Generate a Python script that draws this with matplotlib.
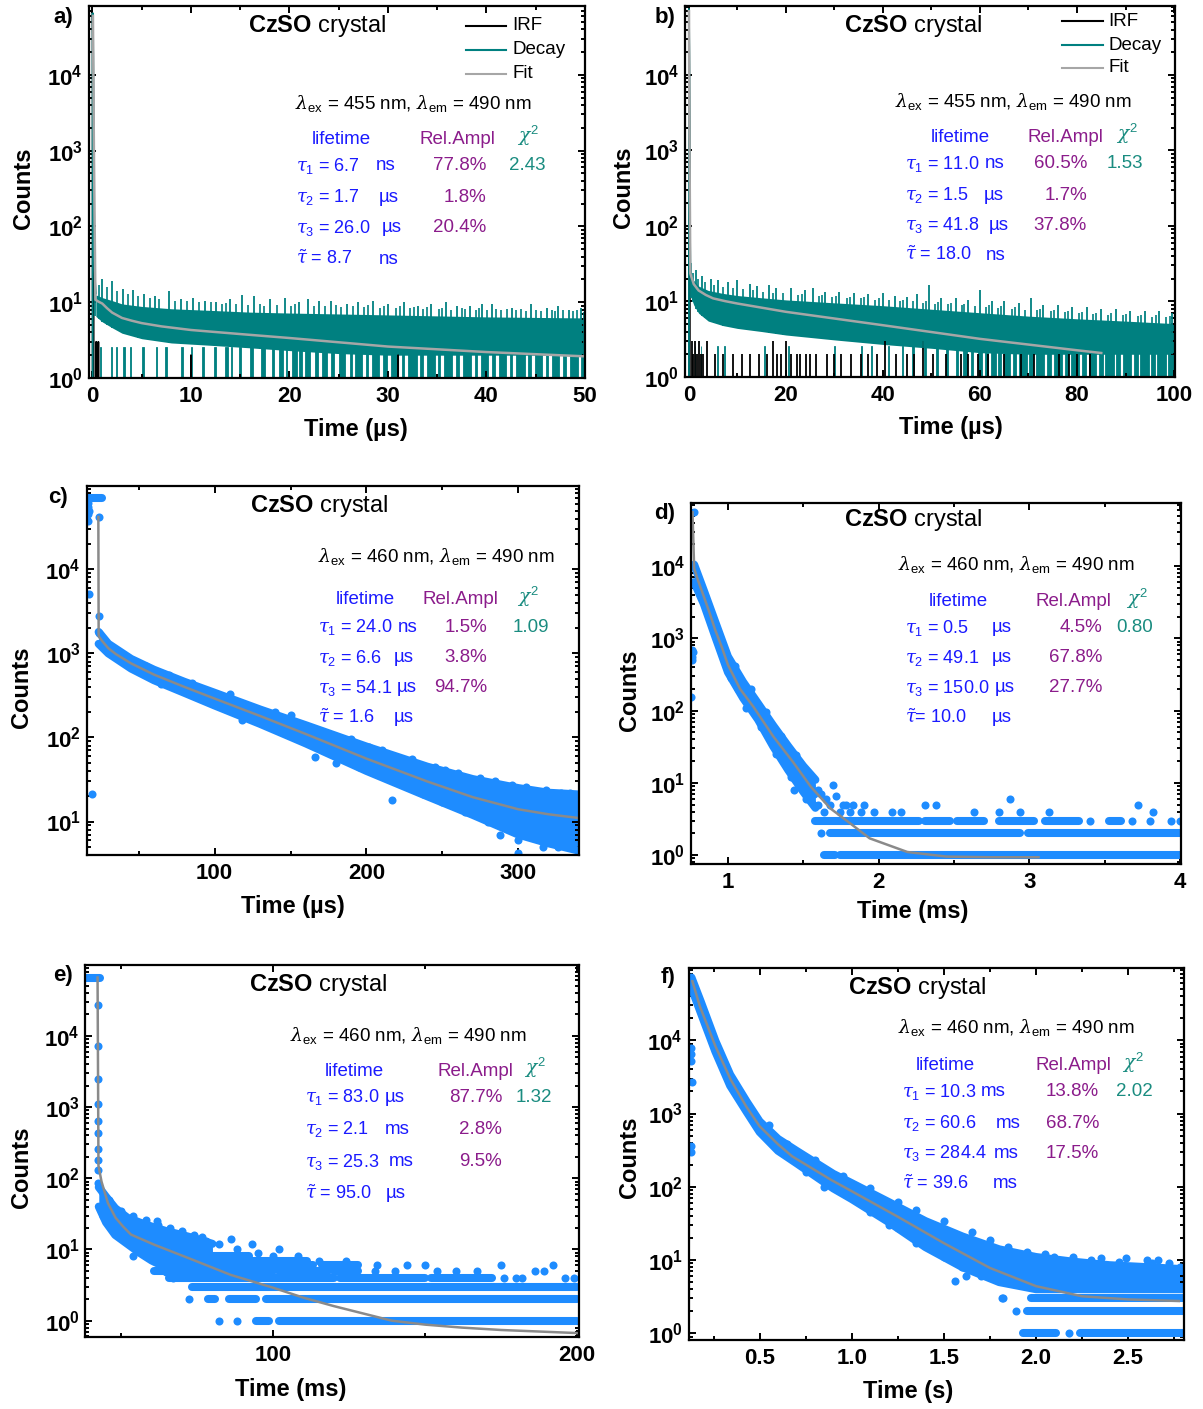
import numpy as np
import matplotlib
matplotlib.use('Agg')
import matplotlib.pyplot as plt
from matplotlib.ticker import FixedLocator, LogLocator, FuncFormatter, NullFormatter
from matplotlib.lines import Line2D

plt.rcParams['font.family'] = ['Liberation Sans', 'DejaVu Sans']
plt.rcParams['mathtext.fontset'] = 'custom'
plt.rcParams['mathtext.rm'] = 'Liberation Sans'
plt.rcParams['mathtext.it'] = 'DejaVu Serif:italic'
plt.rcParams['mathtext.bf'] = 'Liberation Sans:bold'
plt.rcParams['mathtext.sf'] = 'Liberation Sans'

# ---------------------------------------------------------------- data
# panel a (time in us)
a_irf_t = [-0.4, -0.03, 0.02, 0.07, 0.12, 0.18, 0.3, 0.38, 0.42, 0.5, 0.54, 0.6, 0.66, 9.98, 10.0, 10.05, 31.0, 31.03, 31.07, 50.0]
a_irf_c = [0, 0, 6.5e4, 2.0e4, 40, 0, 0, 3, 0, 2, 0, 3, 0, 0, 2, 0, 0, 2, 0, 0]
a_head_t = [-0.4, -0.03, 0.02, 0.07, 0.12, 0.18, 0.25, 0.35]
a_head_c = [0, 0, 6.5e4, 3.0e4, 800, 60, 20, 13]
a_env_t = [0.35, 1, 2, 3, 5, 8, 12, 16, 20, 25, 30, 35, 40, 45, 50]
a_env_hi = [12.5, 11.5, 10.5, 9.5, 8.8, 8.2, 7.8, 7.4, 7.2, 7.0, 6.8, 6.6, 6.4, 6.3, 6.2]
a_env_lo = [6.5, 5.5, 4.6, 3.9, 3.3, 2.9, 2.7, 2.5, 2.3, 2.1, 2.0, 2.0, 2.0, 2.0, 2.0]
a_up_t = [0.3, 1.0, 2.0, 3.1, 4.1, 5.2, 6.3, 7.8, 9.0, 10.2, 11.4, 12.5, 14.0, 15.2, 16.4, 18.0, 19.5, 21.0,
          21.9, 23.0, 24.2, 25.8, 27.0, 28.5, 30.0, 31.6, 33.0, 34.4, 35.9, 37.0, 38.3, 39.5, 40.6, 42.6,
          44.5, 46.1, 47.3, 48.4, 49.6]
a_up_c = [22, 20, 19, 15, 14.5, 13, 12, 14, 11, 11.5, 10.5, 10, 11, 12.5, 12, 11, 11.5, 10, 11, 10.5,
          10.3, 9.5, 10, 10.5, 9.5, 10, 9, 9.5, 10, 9, 9, 9.5, 9.5, 8.5, 9.5, 8.5, 9, 8, 8.5]
a_up2_t = [0.7, 1.5, 2.5, 3.6, 4.6, 5.8, 6.8, 8.4, 9.6, 10.8, 12.0, 13.2, 13.6, 14.6, 15.8, 17.0, 17.4,
           18.7, 20.2, 20.6, 22.5, 23.6, 24.7, 25.2, 26.4, 27.6, 28.0, 29.2, 29.6, 30.8, 31.2, 32.2, 32.6,
           33.6, 34.0, 35.2, 35.5, 36.4, 37.5, 37.8, 38.9, 39.2, 40.1, 41.0, 41.5, 42.1, 43.0, 43.5, 44.0,
           45.0, 45.5, 46.6, 47.0, 47.8, 48.8, 49.2, 49.9]
a_up2_c = [17, 16, 14, 13, 12, 11.5, 11, 10.5, 10.5, 10, 10, 9.5, 9.8, 9.5, 9.2, 9.5, 9.0, 9.3, 9.0, 9.4,
           9.0, 8.8, 9.2, 8.7, 9.0, 8.6, 9.1, 8.5, 8.9, 8.4, 8.8, 8.3, 8.7, 8.2, 8.6, 8.1, 8.5, 8.0, 8.4,
           8.2, 8.0, 8.3, 7.9, 8.2, 7.8, 8.1, 7.8, 8.1, 7.7, 8.0, 7.7, 7.9, 7.6, 7.9, 7.6, 7.8, 7.5]
a_floor_s = [0.4, 0.8, 1.9, 2.4, 3.1, 3.8, 5.0, 6.5, 7.4, 9.0, 10.0, 11.1, 12.3, 13.5, 14.1, 14.9, 16.0, 17.1,
             18.2, 18.9, 19.6, 20.3, 21.0, 21.6, 22.6, 23.3, 24.2, 25.0, 26.1, 26.7, 27.8, 28.4, 29.5, 30.3,
             31.4, 32.0, 33.3, 34.0, 35.1, 35.7, 36.9, 37.6, 38.8, 39.4, 40.6, 41.3, 42.4, 43.0, 44.2, 44.9,
             46.0, 46.6, 47.8, 48.5, 49.6]
a_floor_e = [0.5, 0.9, 2.0, 2.5, 3.3, 3.9, 5.2, 6.6, 7.6, 9.2, 10.1, 11.3, 12.5, 13.8, 14.2, 15.1, 16.3, 17.5,
             18.4, 19.3, 19.8, 20.8, 21.3, 22.1, 22.9, 23.8, 24.5, 25.6, 26.3, 27.4, 28.0, 29.1, 29.9, 31.0,
             31.6, 32.9, 33.6, 34.8, 35.3, 36.5, 37.2, 38.4, 39.0, 40.2, 40.9, 42.0, 42.6, 43.9, 44.5, 45.6,
             46.2, 47.4, 48.1, 49.3, 50.0]
a_fit_t = [0.05, 0.15, 0.3, 0.6, 1, 1.5, 2, 3, 4, 5, 7, 10, 15, 20, 30, 40, 50]
a_fit_c = [6.0e4, 1.0e3, 10.8, 10.2, 9.6, 8.3, 7.3, 6.2, 5.7, 5.3, 4.8, 4.3, 3.8, 3.37, 2.6, 2.2, 1.93]

# panel b (time in us)
b_irf_head_t = [-0.8, -0.05, 0.02, 0.1, 0.2, 0.35]
b_irf_head_c = [0, 0, 7.5e4, 5.0e3, 30, 0]
b_irf_t = [0.6, 0.9, 1.3, 1.7, 2.1, 2.5, 3.0, 3.8, 5.4, 7.0, 9.0, 11.0, 12.5, 14.5, 16.0, 17.3, 18.2, 19.0,
           20.1, 21.0, 22.3, 23.0, 24.1, 25.0, 26.2, 28.5, 30.0, 31.4, 33.5, 35.5, 37.0, 38.8, 40.5, 42.7,
           45.0, 46.5, 48.2, 50.3, 53.0, 56.0, 57.6, 59.6, 61.6, 65.0, 68.4, 71.2, 76.3, 78.3, 80.0, 82.7]
b_irf_c = [3, 2, 3, 2, 3, 2, 2, 3, 2, 2, 2, 2, 2, 2, 2, 3, 2, 2, 3, 2, 2, 2, 2, 2, 2, 2, 2, 2, 2, 2, 2,
           2, 3, 2, 2, 2, 3, 2, 2, 2, 2, 2, 2, 2, 2, 2, 2, 2, 2, 2]
b_head_t = [-0.8, -0.05, 0.02, 0.08, 0.15, 0.25, 0.3]
b_head_c = [0, 0, 7.5e4, 2.0e4, 500, 60, 28]
b_env_t = [0.3, 1, 2, 4, 7, 10, 15, 20, 30, 40, 50, 60, 70, 80, 90, 100]
b_env_hi = [24, 19, 16, 14, 12.8, 12, 11.2, 10.5, 9.6, 8.8, 7.9, 7.1, 6.4, 5.9, 5.5, 5.1]
b_env_lo = [12, 9, 7, 5.5, 4.8, 4.4, 4.0, 3.6, 3.1, 2.7, 2.4, 2.1, 2.0, 2.0, 2.0, 2.0]
b_up_t = [0.5, 1.5, 2.8, 4.5, 6.0, 8.0, 10.0, 12.5, 14.0, 16.5, 18.0, 21.0, 24.0, 25.5, 28.0, 31.0, 34.0,
          37.0, 40.0, 42.5, 45.0, 47.0, 49.5, 52.0, 55.0, 57.5, 60.0, 62.5, 65.0, 68.0, 70.5, 73.0, 76.0,
          79.0, 82.0, 85.0, 88.0, 91.0, 94.0, 97.0, 99.5]
b_up_c = [32, 26, 22, 20, 19, 18, 19, 17, 16, 16.5, 15, 15, 14, 15, 13.5, 13.5, 13, 12.5, 13, 12, 11.5,
          12.5, 16.5, 11, 11, 10.5, 14, 10, 10, 9.5, 11, 9, 9, 8.5, 8.5, 8, 8, 7.5, 7.5, 7.5, 7]
b_up2_t = [0.8, 1.9, 3.3, 5.2, 7.0, 9.0, 11.2, 13.3, 15.2, 17.3, 19.5, 22.5, 23.3, 26.8, 27.4, 29.5, 30.3,
           32.5, 33.2, 35.4, 36.1, 38.3, 39.1, 41.3, 43.6, 44.2, 46.2, 48.3, 48.9, 50.8, 51.4, 53.5, 54.1,
           56.2, 56.8, 58.9, 61.2, 61.8, 63.8, 64.4, 66.5, 67.2, 69.3, 71.8, 72.4, 74.6, 75.3, 77.5, 78.1,
           80.4, 81.1, 83.4, 84.0, 86.4, 87.1, 89.5, 90.2, 92.5, 93.2, 95.5, 96.2, 98.4, 99.1]
b_up2_c = [24, 20, 18, 16.5, 15.5, 15, 14.5, 14, 13.5, 13, 12.8, 12.2, 12.6, 11.8, 12.2, 11.5, 11.9, 11.2,
           11.6, 11.0, 11.3, 10.6, 11.0, 10.4, 10.2, 10.6, 10.0, 9.6, 10.0, 9.4, 9.8, 9.2, 9.5, 9.0, 9.3,
           8.7, 8.5, 8.9, 8.3, 8.6, 8.0, 8.4, 7.8, 7.6, 7.9, 7.4, 7.7, 7.2, 7.5, 7.0, 7.3, 6.8, 7.1, 6.7,
           7.0, 6.6, 6.9, 6.4, 6.7, 6.3, 6.6, 6.2, 6.5]
b_floor_s = [1.2, 2.5, 5.8, 7.2, 15.5, 20.5, 30.0, 35.5, 37.5, 41.0, 44.0, 46.0, 48.5, 51.0, 53.0, 55.0,
             56.5, 58.2, 59.5, 61.0, 62.2, 63.8, 65.0, 66.8, 68.0, 70.2, 71.6, 73.8, 75.2, 77.5, 78.8, 81.0,
             82.4, 84.5, 85.8, 88.1, 89.4, 91.7, 93.0, 95.3, 96.5, 98.8]
b_floor_e = [1.3, 2.6, 5.9, 7.4, 15.7, 20.7, 30.2, 35.7, 37.8, 41.3, 44.2, 46.4, 48.8, 51.3, 53.5, 55.4,
             57.3, 58.6, 60.5, 61.6, 63.3, 64.4, 66.2, 67.5, 69.6, 71.0, 73.2, 74.6, 77.0, 78.2, 80.5, 81.8,
             84.0, 85.3, 87.6, 88.9, 91.2, 92.5, 94.8, 96.0, 98.3, 100.2]
b_fit_t = [0.02, 0.1, 0.3, 1, 2, 3.5, 5, 7.5, 10, 20, 40, 60, 80, 85]
b_fit_c = [7.0e4, 2.0e3, 23.5, 17, 14, 12.2, 11, 10.1, 9.4, 7.3, 4.85, 3.2, 2.26, 2.08]

# panel c (time in us)
c_fit_t = [23.4, 23.6, 26, 30, 35, 45, 60, 80, 100, 130, 160, 200, 240, 270, 300, 320, 340]
c_fit_c = [4.2e4, 1.6e3, 1.4e3, 1.15e3, 980, 760, 560, 400, 290, 180, 110, 56, 30, 19.5, 14, 12.2, 11]
c_band_t = [23.6, 30, 45, 60, 80, 100, 130, 160, 200, 240, 270, 300, 320, 340]
c_band_hi = [1800, 1300, 860, 640, 460, 340, 215, 140, 78, 45, 32, 25, 22, 21]
c_band_lo = [1300, 1000, 660, 480, 340, 240, 145, 85, 40, 20, 12, 7, 5.5, 4.5]
c_row_c = [7.0e4]
c_row_s = [16.6]
c_row_e = [26.0]
c_pts_t = [16.3, 16.5, 16.8, 17.5, 16.4, 24.1, 17.4, 24.0, 24.0, 19.4, 118, 166, 217, 237, 288, 300, 300,
           316, 326, 202, 252, 296, 334, 180, 310,
           40, 55, 70, 85, 110, 140, 150, 170, 190, 210, 230, 245, 260, 275, 285, 305, 318, 328,
           65, 90, 120, 145, 175, 195, 225, 250, 265, 280, 295, 315, 335]
c_pts_c = [4.5e4, 5.5e4, 3.8e4, 5.0e4, 6.2e4, 4.2e4, 5.1e3, 2.8e3, 1.75e3, 21, 162, 59, 18, 21, 6.9, 6.1,
           4.2, 5, 5, 78, 41, 27, 22, 50, 9,
           950, 700, 560, 440, 330, 200, 185, 120, 95, 70, 55, 45, 38, 33, 30, 26, 24, 22,
           430, 300, 190, 120, 70, 45, 27, 17, 13, 10, 8, 6.5, 5.5]

# panel d (time in ms)
d_fit_t = [0.765, 0.776, 0.80, 0.84, 0.88, 0.916, 0.96, 1.0, 1.08, 1.17, 1.3, 1.43, 1.55, 1.68, 1.81,
           1.94, 2.19, 2.45, 2.75, 3.06]
d_fit_c = [5.6e4, 9.3e3, 6.5e3, 3.8e3, 2.2e3, 1.3e3, 750, 430, 200, 112, 44, 19.6, 8.8, 4.4, 2.75,
           1.7, 1.1, 0.95, 0.93, 0.93]
d_band_t = [0.776, 0.84, 0.92, 1.0, 1.1, 1.2, 1.3, 1.4, 1.5, 1.58]
d_band_hi = [1.05e4, 4.6e3, 1.6e3, 560, 250, 125, 62, 32, 17, 11]
d_band_lo = [6.0e3, 3.0e3, 1.0e3, 340, 150, 75, 32, 15, 7.5, 4.5]
d_row_c = [3, 3, 3, 3, 3, 3, 2, 2, 1, 1]
d_row_s = [1.58, 2.31, 2.52, 2.80, 3.10, 3.53, 1.68, 2.99, 1.64, 1.74]
d_row_e = [2.27, 2.47, 2.70, 3.03, 3.33, 3.61, 2.94, 4.00, 1.71, 4.00]
d_pts_t = [0.776, 0.763, 0.765, 0.762, 0.760, 0.758, 1.07, 1.12, 1.38, 1.42, 1.45, 1.47, 1.50, 1.52,
           1.55, 1.57, 1.60, 1.62, 1.65, 1.70, 1.72, 1.76, 1.81, 1.83, 1.885, 1.90, 1.97, 2.09, 2.15,
           2.31, 2.38, 2.63, 2.80, 2.87, 2.94, 3.13, 3.72, 3.82, 1.44, 1.48, 1.62, 3.40, 3.68, 3.80,
           3.94, 4.0,
           0.95, 1.05, 1.15, 1.25, 1.35, 1.02, 1.12, 1.22, 1.32, 1.42, 1.52, 1.57,
           1.60, 1.64, 1.68, 1.74, 1.78]
d_pts_c = [5.6e4, 700, 640, 560, 500, 155, 200, 150, 28, 22, 24, 16, 14, 10, 9, 7, 8, 7, 6, 9.3, 6.5,
           5, 4, 5, 4, 5, 4, 4, 4, 5, 5, 4, 4, 6, 4, 4, 5, 4, 8, 9, 2, 3, 3, 3, 3, 3,
           1000, 420, 200, 95, 45, 280, 110, 60, 25, 12, 6, 5,
           5, 4, 5, 4, 5]

# panel e (time in ms)
e_fit_t = [42.2, 42.5, 43.5, 45.6, 48.1, 50.6, 53.2, 60.8, 73.4, 86, 100, 110, 120, 139, 150, 162, 175, 200]
e_fit_c = [6.6e4, 150, 90, 45, 28, 21, 16.2, 11.7, 7.2, 4.4, 2.9, 2.1, 1.6, 1.0, 0.88, 0.8, 0.74, 0.67]
e_band_t = [42.6, 45, 48, 52, 56, 60, 65, 70, 75, 80]
e_band_hi = [75, 55, 38, 28, 24, 21, 18, 16, 14, 12]
e_band_lo = [40, 24, 16, 12, 9, 7, 5.5, 5, 5, 5]
e_row_c = [6.6e4, 8, 7, 6, 6, 6, 5, 5, 5, 4, 4, 4, 3, 2, 2, 2, 1, 1]
e_row_s = [38.4, 64.6, 70.0, 73.0, 98.0, 116.0, 60.8, 102.0, 120.0, 65.8, 122.0, 152.0, 73.4, 78.5,
           85.4, 97.5, 94.3, 101.9]
e_row_e = [42.9, 92.0, 111.0, 96.0, 113.0, 128.0, 100.0, 118.0, 127.8, 120.0, 150.0, 172.0, 200.0,
           81.0, 94.3, 200.0, 98.7, 200.0]
e_pts_t = [42.4, 42.4, 42.4, 42.4, 42.4, 42.4, 42.4, 42.4, 42.4, 42.4, 53.8, 61.8, 64.6, 67.1, 76.6,
           86, 93, 102, 144, 175, 192, 182, 186, 189, 160, 167, 154, 133.5, 140, 57, 59, 72.2, 82, 88,
           176, 180, 196, 199,
           46, 50, 54, 58, 62, 66, 70, 74, 78, 82, 88, 95, 100, 108, 115, 124, 134, 150, 44, 47, 50, 55]
e_pts_c = [2.7e4, 7.1e3, 2.45e3, 1.1e3, 630, 430, 257, 178, 132, 86, 8, 25, 4.9, 4, 15, 14, 11.8, 10,
           6, 6, 6, 4, 5, 5, 5, 5, 5, 5, 5, 10, 9, 2, 1, 1, 4, 4, 4, 4,
           50, 35, 30, 26, 22, 20, 18, 16, 13, 12, 10, 9, 8, 8, 7, 7, 6, 6, 30, 20, 15, 11]

# panel f (time in s)
f_fit_t = [0.135, 0.176, 0.26, 0.343, 0.427, 0.5, 0.6, 0.677, 0.886, 1.0, 1.25, 1.5, 1.75, 2.0, 2.25, 2.5, 2.775]
f_fit_c = [6.4e4, 2.9e4, 8.3e3, 2.9e3, 1.25e3, 670, 380, 260, 125, 87, 39, 17, 7.8, 4.4, 3.2, 2.9, 2.76]
f_band_t = [0.13, 0.18, 0.26, 0.34, 0.43, 0.5, 0.6, 0.7, 0.9, 1.0, 1.2, 1.4, 1.6, 1.8, 2.0, 2.2, 2.4, 2.6, 2.8]
f_band_hi = [7.2e4, 3.4e4, 9.8e3, 3.4e3, 1.45e3, 780, 450, 310, 150, 112, 62, 34, 21, 14, 11, 9.5, 8.5, 8, 7.5]
f_band_lo = [5.2e4, 2.4e4, 7.0e3, 2.4e3, 1.05e3, 560, 310, 210, 95, 68, 33, 15, 8, 5, 4, 4, 4, 4, 4]
f_row_c = [3, 2, 1, 1]
f_row_s = [1.97, 1.95, 1.93, 2.24]
f_row_e = [2.80, 2.80, 2.11, 2.80]
f_pts_t = [0.13, 0.13, 0.128, 0.133, 0.13, 0.13, 1.558, 1.82, 2.49, 2.78, 2.66, 2.63, 1.9, 2.1, 2.3,
           1.05, 1.3, 1.45, 1.815, 1.89, 2.18, 1.20, 1.62,
           0.55, 0.65, 0.8, 0.95, 1.1, 1.25, 1.35, 1.5, 1.65, 1.75, 1.85, 1.95, 2.05, 2.2, 2.35, 2.45,
           2.6, 2.72, 0.75, 0.85, 1.1, 1.25, 1.35, 1.5, 1.6, 1.7]
f_pts_c = [7.9e3, 6.5e3, 5.2e3, 2.7e3, 360, 300, 5.1, 3, 10.6, 8.1, 10, 9, 12, 11, 10, 60, 40, 28, 3, 2,
           1, 30, 6,
           700, 380, 230, 140, 95, 62, 48, 34, 24, 19, 15, 13, 12, 11, 10.5, 9.5, 10, 9,
           160, 100, 45, 27, 17, 11, 8, 6]

# annotation values
a_tau = ['6.7', '1.7', '26.0', '8.7'];   a_unit = ['ns', 'µs', 'µs', 'ns'];  a_amp = ['77.8%', '1.8%', '20.4%'];  a_chi = '2.43'
b_tau = ['11.0', '1.5', '41.8', '18.0']; b_unit = ['ns', 'µs', 'µs', 'ns'];  b_amp = ['60.5%', '1.7%', '37.8%'];  b_chi = '1.53'
c_tau = ['24.0', '6.6', '54.1', '1.6'];  c_unit = ['ns', 'µs', 'µs', 'µs'];  c_amp = ['1.5%', '3.8%', '94.7%'];   c_chi = '1.09'
d_tau = ['0.5', '49.1', '150.0', '10.0']; d_unit = ['µs', 'µs', 'µs', 'µs']; d_amp = ['4.5%', '67.8%', '27.7%'];  d_chi = '0.80'
e_tau = ['83.0', '2.1', '25.3', '95.0']; e_unit = ['µs', 'ms', 'ms', 'µs'];  e_amp = ['87.7%', '2.8%', '9.5%'];   e_chi = '1.32'
f_tau = ['10.3', '60.6', '284.4', '39.6']; f_unit = ['ms', 'ms', 'ms', 'ms']; f_amp = ['13.8%', '68.7%', '17.5%']; f_chi = '2.02'
a_wl = ['455', '490']; b_wl = ['455', '490']; c_wl = ['460', '490']
d_wl = ['460', '490']; e_wl = ['460', '490']; f_wl = ['460', '490']

# ---------------------------------------------------------------- style
TEAL = '#008080'
BLUE = '#1e8cff'
FIT_AB = '#a6a6a6'
FIT_CF = '#8a8a8a'
TBLUE = '#1a1aff'
TPURP = '#8b1c8b'
TTEAL = '#1a8c80'
MS = 5.8

W, H = 1203, 1409
fig = plt.figure(figsize=(W / 100, H / 100), dpi=100)
RENDERER = fig.canvas.get_renderer()


def make_ax(l, r, t, b):
    return fig.add_axes([l / W, 1 - b / H, (r - l) / W, (b - t) / H])


def T(x, y, s, size=13.5, color='black', ha='left', va='center', weight='normal'):
    return fig.text(x / W, 1 - y / H, s, fontsize=size, color=color, ha=ha, va=va, fontweight=weight)


def style(ax, box, xlim, ylim, xmaj, xlabs, xminor, xlabel, xl_c, xl_c_y, yl_c):
    l, r, t, b = box
    ax.set_yscale('log', nonpositive='clip')
    ax.set_xlim(*xlim)
    ax.set_ylim(*ylim)
    ax.set_xticks(xmaj)
    ax.set_xticklabels(xlabs, fontweight='bold', fontsize=16)
    ax.xaxis.set_minor_locator(FixedLocator(xminor))
    ax.yaxis.set_major_locator(FixedLocator([1, 10, 100, 1e3, 1e4]))
    ax.yaxis.set_major_formatter(FuncFormatter(lambda v, p: r'$\mathbf{10^{%d}}$' % round(np.log10(v))))
    ax.yaxis.set_minor_locator(LogLocator(base=10, subs=np.arange(2, 10)))
    ax.yaxis.set_minor_formatter(NullFormatter())
    ax.tick_params(which='both', direction='in', top=True, right=True, width=1.4)
    ax.tick_params(which='major', length=5, pad=6)
    ax.tick_params(which='minor', length=3)
    ax.tick_params(axis='y', labelsize=16, pad=4)
    for s in ax.spines.values():
        s.set_linewidth(1.6)
    ax.set_xlabel(xlabel, fontsize=17, fontweight='bold')
    ax.set_ylabel('Counts', fontsize=17, fontweight='bold')
    # label positions given in figure pixels (centre of the label text)
    ax.xaxis.set_label_coords((xl_c - l) / (r - l), (b - (xl_c_y - 12)) / (b - t))
    ax.yaxis.set_label_coords((yl_c[0] + 13 - l) / (r - l), (b - yl_c[1]) / (b - t))


def annotate(lab, lx, ly, title_x, title_y, wl, wlx, wly, hdr_y, hx, tau, unit, amp, chi,
             tx, ux, ax_r, chix, rows, tilde_eq=' = '):
    T(lx, ly, lab, size=16, weight='bold', ha='center')
    T(title_x, title_y, r'$\mathbf{CzSO}$ crystal', size=17, ha='center')
    T(wlx, wly, r'$\lambda_{\mathrm{ex}}$ = %s nm, $\lambda_{\mathrm{em}}$ = %s nm' % (wl[0], wl[1]))
    T(hx[0], hdr_y, 'lifetime', color=TBLUE, ha='center')
    T(hx[1], hdr_y, 'Rel.Ampl', color=TPURP, ha='center')
    T(hx[2], hdr_y - 3, r'$\chi^2$', color=TTEAL, ha='center')
    syms = [r'$\tau_1$ = ', r'$\tau_2$ = ', r'$\tau_3$ = ', r'$\tilde{\tau}$' + tilde_eq]
    for i in range(4):
        t = T(tx, rows[i], syms[i] + tau[i], color=TBLUE, size=13)
        x_end = t.get_window_extent(RENDERER).x1
        T(max(ux[i], x_end + 5), rows[i], unit[i], color=TBLUE)
    for i in range(3):
        T(ax_r, rows[i], amp[i], color=TPURP, ha='right')
    T(chix, rows[0], chi, color=TTEAL, ha='center')


def legend_ab(x0, x1, xt, ys):
    for y, col, lab in zip(ys, ['black', TEAL, FIT_AB], ['IRF', 'Decay', 'Fit']):
        fig.add_artist(Line2D([x0 / W, x1 / W], [1 - y / H, 1 - y / H], color=col, lw=1.5,
                              transform=fig.transFigure))
        T(xt, y, lab)


def teal_decay(ax, head_t, head_c, env_t, lo, hi, up_t, up_c, up2_t, up2_c, fl_s, fl_e, floor_top):
    ax.plot(head_t, head_c, color=TEAL, lw=1.3)
    ax.fill_between(env_t, lo, hi, color=TEAL, lw=0)
    ax.vlines(up_t, np.interp(up_t, env_t, lo), up_c, color=TEAL, lw=1.3)
    ax.vlines(up2_t, np.interp(up2_t, env_t, lo), up2_c, color=TEAL, lw=1.2)
    fs = np.array(fl_s)
    fe = np.array(fl_e)
    ax.bar(fs, [floor_top - 0.3] * len(fs), width=fe - fs, bottom=0.3, align='edge',
           color=TEAL, edgecolor=TEAL, lw=0.6)


def blue_decay(ax, band_t, lo, hi, row_c, row_s, row_e, pts_t, pts_c):
    ax.fill_between(band_t, lo, hi, color=BLUE, lw=0)
    ax.plot(band_t, hi, color=BLUE, lw=MS, solid_capstyle='round', solid_joinstyle='round')
    ax.plot(band_t, lo, color=BLUE, lw=MS, solid_capstyle='round', solid_joinstyle='round')
    ax.hlines(row_c, row_s, row_e, color=BLUE, lw=MS, capstyle='round')
    ax.plot(pts_t, pts_c, 'o', ms=MS, color=BLUE, mec='none')


# ---------------------------------------------------------------- panel a
box = (88.5, 585, 6, 378)
ax = make_ax(*box)
ax.plot(a_irf_t, a_irf_c, color='black', lw=1.3)
teal_decay(ax, a_head_t, a_head_c, a_env_t, a_env_lo, a_env_hi, a_up_t, a_up_c, a_up2_t, a_up2_c,
           a_floor_s, a_floor_e, 2.6)
ax.plot(a_fit_t, a_fit_c, color=FIT_AB, lw=1.8)
style(ax, box, (-0.4, 50), (1, 8.1e4), list(range(0, 51, 10)), [str(v) for v in range(0, 51, 10)],
      list(range(5, 50, 10)), 'Time (µs)', 356, 430, (22, 188))
annotate('a)', 63, 18, 317, 26, a_wl, 295, 103, 139, [341, 457, 528], a_tau, a_unit, a_amp, a_chi,
         296, [376, 379, 382, 379], 486, 527, [166, 197, 228, 259])
legend_ab(466, 506, 512, [26, 50, 74])

# ---------------------------------------------------------------- panel b
box = (685, 1175, 6, 377)
ax = make_ax(*box)
ax.plot(b_irf_head_t, b_irf_head_c, color='black', lw=1.3)
ax.vlines(b_irf_t, 0.3, b_irf_c, color='black', lw=1.3)
teal_decay(ax, b_head_t, b_head_c, b_env_t, b_env_lo, b_env_hi, b_up_t, b_up_c, b_up2_t, b_up2_c,
           b_floor_s, b_floor_e, 2.6)
ax.plot(b_fit_t, b_fit_c, color=FIT_AB, lw=1.8)
style(ax, box, (-0.8, 100.2), (1, 8.2e4), list(range(0, 101, 20)), [str(v) for v in range(0, 101, 20)],
      list(range(10, 100, 20)), 'Time (µs)', 951, 428, (622, 187))
annotate('b)', 665, 18, 913, 26, b_wl, 895, 101, 137, [960, 1065, 1127], b_tau, b_unit, b_amp, b_chi,
         905, [980, 984, 989, 986], 1087, 1125, [164, 195, 225, 255])
legend_ab(1062, 1103, 1108, [21, 45, 68])

# ---------------------------------------------------------------- panel c
box = (86.5, 579, 486, 855)
ax = make_ax(*box)
blue_decay(ax, c_band_t, c_band_lo, c_band_hi, c_row_c, c_row_s, c_row_e, c_pts_t, c_pts_c)
ax.plot(c_fit_t, c_fit_c, color=FIT_CF, lw=1.8)
style(ax, box, (15.6, 340), (4.0, 9.8e4), [100, 200, 300], ['100', '200', '300'], [50, 150, 250],
      'Time (µs)', 293, 907, (20, 687))
annotate('c)', 58, 497, 319, 506, c_wl, 318, 557, 600, [365, 460, 528], c_tau, c_unit, c_amp, c_chi,
         318, [394, 394, 393, 394], 487, 531, [627, 658, 688, 718])

# ---------------------------------------------------------------- panel d
box = (691, 1181, 503, 864)
ax = make_ax(*box)
blue_decay(ax, d_band_t, d_band_lo, d_band_hi, d_row_c, d_row_s, d_row_e, d_pts_t, d_pts_c)
ax.plot(d_fit_t, d_fit_c, color=FIT_CF, lw=1.8)
style(ax, box, (0.755, 4.005), (0.75, 7.5e4), [1, 2, 3, 4], ['1', '2', '3', '4'], [1.5, 2.5, 3.5],
      'Time (ms)', 913, 912, (628, 690))
annotate('d)', 665, 513, 913, 520, d_wl, 898, 565, 602, [958, 1073, 1137], d_tau, d_unit, d_amp, d_chi,
         905, [992, 992, 992, 992], 1102, 1135, [628, 658, 688, 718], tilde_eq='= ')

# ---------------------------------------------------------------- panel e
box = (85.4, 579, 965, 1337)
ax = make_ax(*box)
blue_decay(ax, e_band_t, e_band_lo, e_band_hi, e_row_c, e_row_s, e_row_e, e_pts_t, e_pts_c)
ax.plot(e_fit_t, e_fit_c, color=FIT_CF, lw=1.8)
style(ax, box, (38.2, 200.6), (0.59, 9.9e4), [100, 200], ['100', '200'], [50, 150], 'Time (ms)',
      291, 1390, (20, 1167))
annotate('e)', 63, 975, 318, 985, e_wl, 290, 1035, 1071, [354, 475, 535], e_tau, e_unit, e_amp, e_chi,
         305, [384, 385, 389, 386], 502, 534, [1097, 1129, 1162, 1194])

# ---------------------------------------------------------------- panel f
box = (688.5, 1184, 968, 1340)
ax = make_ax(*box)
blue_decay(ax, f_band_t, f_band_lo, f_band_hi, f_row_c, f_row_s, f_row_e, f_pts_t, f_pts_c)
ax.plot(f_fit_t, f_fit_c, color=FIT_CF, lw=1.8)
style(ax, box, (0.114, 2.803), (0.81, 9.7e4), [0.5, 1.0, 1.5, 2.0, 2.5], ['0.5', '1.0', '1.5', '2.0', '2.5'],
      [0.25, 0.75, 1.25, 1.75, 2.25, 2.75], 'Time (s)', 908, 1392, (628, 1157))
annotate('f)', 668, 977, 917, 988, f_wl, 898, 1027, 1066, [945, 1073, 1133], f_tau, f_unit, f_amp, f_chi,
         902, [981, 996, 994, 993], 1099, 1134, [1092, 1123, 1153, 1184])

fig.savefig('out.png', dpi=100)
